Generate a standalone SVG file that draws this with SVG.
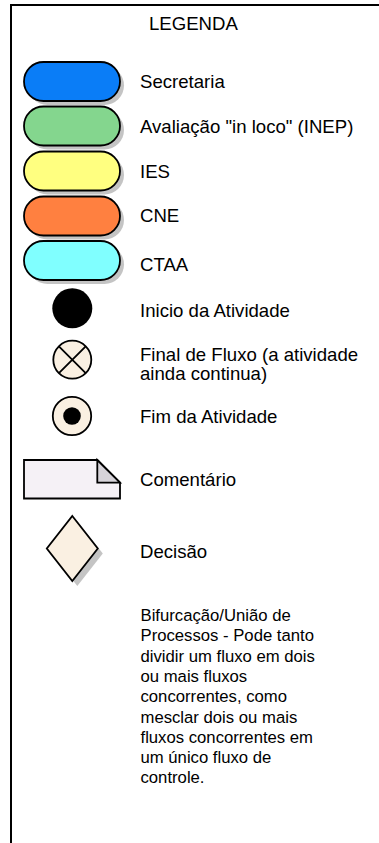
<svg xmlns="http://www.w3.org/2000/svg" width="379" height="843" viewBox="0 0 379 843">
  <style>
    .lbl { font-family: "Liberation Sans", Arial, sans-serif; font-size: 18.6px; fill: #000; }
    .par { font-family: "Liberation Sans", Arial, sans-serif; font-size: 16.7px; fill: #000; }
    .pill { stroke: #000; stroke-width: 1.8; }
    .shadow { fill: #c4c4c4; }
    .cream { fill: #faf0e2; stroke: #000; stroke-width: 1.8; }
  </style>
  <rect width="379" height="843" fill="#fff"/>
  <path id="frame" d="M11,843 V5 H380" fill="none" stroke="#000" stroke-width="2"/>

  <text class="lbl" x="149" y="30">LEGENDA</text>

  <g id="secretaria">
    <rect class="shadow" x="28" y="66" width="96" height="39" rx="19.5"/>
    <rect class="pill" x="24" y="62" width="96" height="39" rx="19.5" fill="#0a7df7"/>
    <text class="lbl" x="140" y="88.3">Secretaria</text>
  </g>
  <g id="inep">
    <rect class="shadow" x="28" y="110.5" width="96" height="39" rx="19.5"/>
    <rect class="pill" x="24" y="106.5" width="96" height="39" rx="19.5" fill="#84d68e"/>
    <text class="lbl" x="140" y="133.3">Avaliação "in loco" (INEP)</text>
  </g>
  <g id="ies">
    <rect class="shadow" x="28" y="155.5" width="96" height="39" rx="19.5"/>
    <rect class="pill" x="24" y="151.5" width="96" height="39" rx="19.5" fill="#ffff80"/>
    <text class="lbl" x="140" y="178.3">IES</text>
  </g>
  <g id="cne">
    <rect class="shadow" x="28" y="200.5" width="96" height="39" rx="19.5"/>
    <rect class="pill" x="24" y="196.5" width="96" height="39" rx="19.5" fill="#ff8040"/>
    <text class="lbl" x="140" y="221.7">CNE</text>
  </g>
  <g id="ctaa">
    <rect class="shadow" x="28" y="245" width="96" height="39" rx="19.5"/>
    <rect class="pill" x="24" y="241" width="96" height="39" rx="19.5" fill="#80ffff"/>
    <text class="lbl" x="140" y="270.7">CTAA</text>
  </g>

  <g id="inicio">
    <circle cx="72.3" cy="308.3" r="20" fill="#000"/>
    <text class="lbl" x="140" y="317">Inicio da Atividade</text>
  </g>
  <g id="final-fluxo">
    <circle class="cream" cx="72.3" cy="359.7" r="19"/>
    <path d="M58.9,346.3 L85.7,373.1 M85.7,346.3 L58.9,373.1" stroke="#000" stroke-width="1.8"/>
    <text class="lbl" x="140" y="361"><tspan x="140" y="361">Final de Fluxo (a atividade</tspan><tspan x="140" y="380">ainda continua)</tspan></text>
  </g>
  <g id="fim">
    <circle class="cream" cx="72" cy="416" r="19.2"/>
    <circle cx="72" cy="416" r="8.8" fill="#000"/>
    <text class="lbl" x="140" y="422.7">Fim da Atividade</text>
  </g>
  <g id="comentario">
    <path d="M24,460 H97.3 L120,482.7 V498.5 H24 Z" fill="#f5f1f6" stroke="#000" stroke-width="1.8" stroke-linejoin="miter"/>
    <path d="M97.3,460 V482.7 H120 Z" fill="#d6d3d9" stroke="#000" stroke-width="1.8"/>
    <text class="lbl" x="140" y="486">Comentário</text>
  </g>
  <g id="decisao">
    <polygon points="77.3,521 102.8,553.5 77.3,586 51.8,553.5" fill="#c4c4c4"/>
    <polygon class="cream" points="72.3,516 97.8,548.5 72.3,581 46.8,548.5"/>
    <text class="lbl" x="140" y="557.7">Decisão</text>
  </g>
  <g id="bifurcacao">
    <text class="par" x="140.5" y="621">
      <tspan x="140.5" y="621">Bifurcação/União de</tspan>
      <tspan x="140.5" y="641.3">Processos - Pode tanto</tspan>
      <tspan x="140.5" y="661.6">dividir um fluxo em dois</tspan>
      <tspan x="140.5" y="681.9">ou mais fluxos</tspan>
      <tspan x="140.5" y="702.2">concorrentes, como</tspan>
      <tspan x="140.5" y="722.5">mesclar dois ou mais</tspan>
      <tspan x="140.5" y="742.8">fluxos concorrentes em</tspan>
      <tspan x="140.5" y="763.1">um único fluxo de</tspan>
      <tspan x="140.5" y="783.4">controle.</tspan>
    </text>
  </g>
</svg>
